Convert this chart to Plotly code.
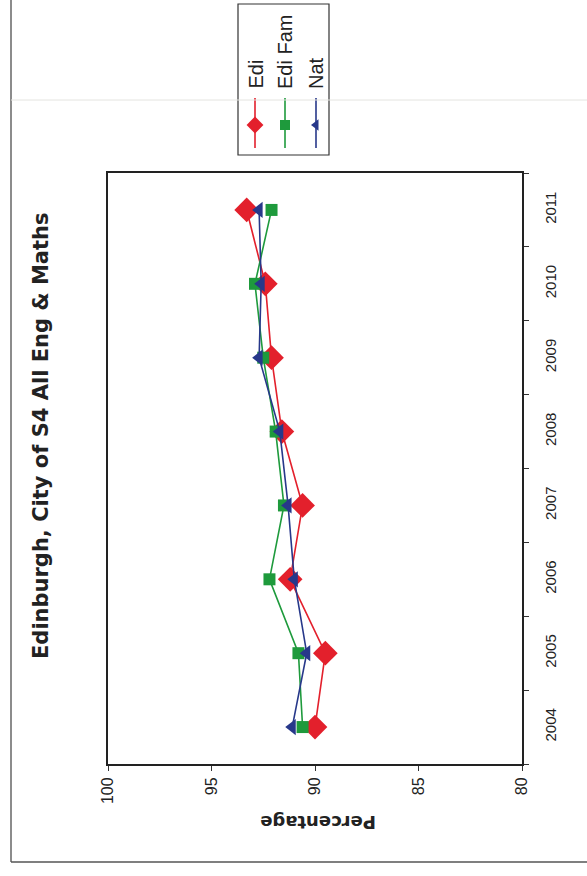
import plotly.graph_objects as go

years = ["2004", "2005", "2006", "2007", "2008", "2009", "2010", "2011"]
series_names = ["Edi", "Edi Fam", "Nat"]
edi = [90.0, 89.5, 91.2, 90.6, 91.6, 92.1, 92.4, 93.3]
edi_fam = [90.6, 90.8, 92.2, 91.5, 91.9, 92.5, 92.9, 92.1]
nat = [91.1, 90.4, 91.0, 91.3, 91.7, 92.7, 92.6, 92.7]
pct_ticks = [100, 95, 90, 85, 80]
title_text = "Edinburgh, City of S4 All Eng & Maths"
axis_title = "Percentage"

W, H = 587, 876
colors = ["#e3202c", "#1e9a3c", "#27388a"]
symbols = ["diamond", "square", "triangle-left"]
msizes = [19, 12, 14]
values = [edi, edi_fam, nat]

def px(x):
    return x / W

def py(y):
    return 1 - y / H

fig = go.Figure()
for name, vals, c, s, ms in zip(series_names, values, colors, symbols, msizes):
    fig.add_trace(go.Scatter(
        x=vals, y=years, name=name, mode="lines+markers",
        line=dict(color=c, width=1.6),
        marker=dict(symbol=s, size=ms, color=c),
        xaxis="x", yaxis="y", showlegend=False, cliponaxis=False,
    ))

# manual rotated legend drawn on a pixel overlay axis
leg_x = [255, 285, 316]
for name, c, s, ms, lx in zip(series_names, colors, symbols, msizes, leg_x):
    fig.add_trace(go.Scatter(
        x=[lx, lx, lx], y=[98, 125, 148], mode="lines",
        line=dict(color=c, width=1.6), xaxis="x2", yaxis="y2",
        showlegend=False, hoverinfo="skip"))
    fig.add_trace(go.Scatter(
        x=[lx], y=[125], mode="markers",
        marker=dict(symbol=s, size=max(10, ms - 6), color=c),
        xaxis="x2", yaxis="y2", showlegend=False, hoverinfo="skip"))
    fig.add_annotation(x=px(lx), y=py(91), xref="paper", yref="paper",
                       text=name, textangle=-90, showarrow=False,
                       xanchor="center", yanchor="bottom",
                       font=dict(family="Liberation Sans, Arial, sans-serif",
                                 size=20, color="#222"))

fig.update_layout(
    width=W, height=H,
    margin=dict(l=0, r=0, t=0, b=0, autoexpand=False),
    paper_bgcolor="white", plot_bgcolor="rgba(0,0,0,0)",
    xaxis=dict(
        domain=[px(108), px(522)], range=[100, 80], anchor="y", automargin=False,
        tickvals=pct_ticks, ticktext=[str(t) for t in pct_ticks],
        tickangle=-90, ticks="outside", ticklen=5, tickcolor="#333",
        showline=True, linecolor="#222", linewidth=2, mirror=True,
        showgrid=False, zeroline=False,
        tickfont=dict(family="Liberation Sans, Arial, sans-serif",
                      size=16, color="#222"),
    ),
    yaxis=dict(
        domain=[py(764), py(173)], type="category", range=[-0.5, 7.5],
        anchor="x", side="right", tickson="boundaries", automargin=False,
        ticks="outside", ticklen=5, tickcolor="#333", tickangle=-90,
        ticklabelstandoff=14,
        showline=True, linecolor="#222", linewidth=2, mirror=True,
        showgrid=False, zeroline=False,
        tickfont=dict(family="Liberation Sans, Arial, sans-serif",
                      size=15, color="#222"),
    ),
    xaxis2=dict(domain=[0, 1], range=[0, W], visible=False, fixedrange=True,
                anchor="y2", automargin=False),
    yaxis2=dict(domain=[0, 1], range=[H, 0], visible=False, fixedrange=True,
                anchor="x2", automargin=False),
    annotations=list(fig.layout.annotations) + [
        dict(x=px(41), y=py(436), xref="paper", yref="paper", text="<b>" + title_text + "</b>",
             textangle=-90, showarrow=False, xanchor="center", yanchor="middle",
             font=dict(family="DejaVu Sans, Verdana, sans-serif", size=21, color="#222")),
        dict(x=px(318), y=py(823), xref="paper", yref="paper", text="<b>" + axis_title + "</b>",
             textangle=180, showarrow=False, xanchor="center", yanchor="middle",
             font=dict(family="DejaVu Sans, Verdana, sans-serif", size=18, color="#222")),
    ],
    shapes=[
        dict(type="rect", xref="paper", yref="paper", x0=px(238), x1=px(329),
             y0=py(155), y1=py(4), line=dict(color="#333", width=1.2)),
        dict(type="line", xref="paper", yref="paper", x0=px(11), x1=px(11),
             y0=py(0), y1=py(862), line=dict(color="#666", width=1.5)),
        dict(type="line", xref="paper", yref="paper", x0=px(11), x1=px(587),
             y0=py(862), y1=py(862), line=dict(color="#555", width=1.5)),
        dict(type="line", xref="paper", yref="paper", x0=px(11), x1=px(587),
             y0=py(100), y1=py(100), line=dict(color="#e4e4e0", width=1)),
    ],
)

fig.write_html("out.html")
